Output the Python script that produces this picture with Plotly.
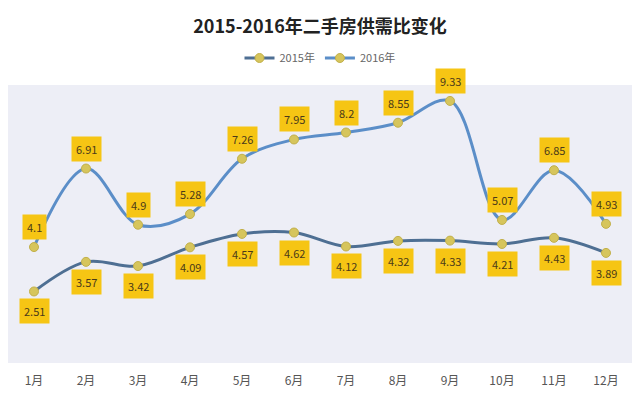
import plotly.graph_objects as go

months = ["1月", "2月", "3月", "4月", "5月", "6月", "7月", "8月", "9月", "10月", "11月", "12月"]
y2015 = [2.51, 3.57, 3.42, 4.09, 4.57, 4.62, 4.12, 4.32, 4.33, 4.21, 4.43, 3.89]
y2016 = [4.1, 6.91, 4.9, 5.28, 7.26, 7.95, 8.2, 8.55, 9.33, 5.07, 6.85, 4.93]
labels2015 = ["2.51", "3.57", "3.42", "4.09", "4.57", "4.62", "4.12", "4.32", "4.33", "4.21", "4.43", "3.89"]
labels2016 = ["4.1", "6.91", "4.9", "5.28", "7.26", "7.95", "8.2", "8.55", "9.33", "5.07", "6.85", "4.93"]

FONT = "Noto Sans CJK SC, Noto Sans, sans-serif"
c2015 = "#4E6F93"
c2016 = "#5B8EC8"
marker_col = "#D6C55C"
box_col = "#F6C514"

fig = go.Figure()
fig.add_trace(go.Scatter(
    x=months, y=y2015, name="2015年", mode="lines+markers",
    line=dict(color=c2015, width=3, shape="spline", smoothing=1),
    marker=dict(color=marker_col, size=9, line=dict(color="#C2B04A", width=1)),
))
fig.add_trace(go.Scatter(
    x=months, y=y2016, name="2016年", mode="lines+markers",
    line=dict(color=c2016, width=3, shape="spline", smoothing=1),
    marker=dict(color=marker_col, size=9, line=dict(color="#C2B04A", width=1)),
))

annotations = []
for m, v, t in zip(months, y2015, labels2015):
    annotations.append(dict(x=m, y=v, text=t, showarrow=False, yshift=-20,
                            bgcolor=box_col, borderpad=4,
                            font=dict(family=FONT, size=11, color="#4A3A1A")))
for m, v, t in zip(months, y2016, labels2016):
    annotations.append(dict(x=m, y=v, text=t, showarrow=False, yshift=20,
                            bgcolor=box_col, borderpad=4,
                            font=dict(family=FONT, size=11, color="#4A3A1A")))

fig.update_layout(
    width=640, height=396,
    margin=dict(l=8, r=8, t=85, b=33),
    paper_bgcolor="white",
    plot_bgcolor="#EDEEF6",
    title=dict(text="<b>2015-2016年二手房供需比变化</b>", x=0.5, xanchor="center",
               y=1 - 27 / 396, yanchor="middle", yref="container",
               font=dict(family=FONT, size=18, color="#222222")),
    legend=dict(orientation="h", x=0.5, xanchor="center", y=1 - 58 / 396,
                yanchor="middle", yref="container",
                font=dict(family=FONT, size=11, color="#666666"),
                itemwidth=30, bgcolor="rgba(0,0,0,0)"),
    xaxis=dict(type="category", range=[-0.5, 11.5], showgrid=False, zeroline=False,
               showline=False, ticks="", ticklabelstandoff=9,
               tickfont=dict(family=FONT, size=12, color="#555555")),
    yaxis=dict(range=[-0.05, 9.9], showgrid=False, zeroline=False, showticklabels=False,
               showline=False, ticks=""),
    annotations=annotations,
    showlegend=True,
)

fig.write_html("out.html",
               config={"displayModeBar": False},
               post_script="document.body.style.margin='0';document.body.style.overflow='hidden';")
